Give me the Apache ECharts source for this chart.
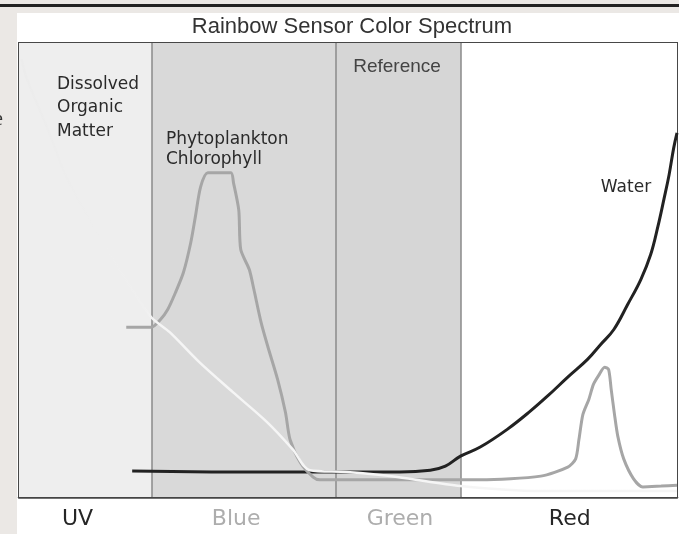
<!DOCTYPE html>
<html>
<head>
<meta charset="utf-8">
<script src="https://cdn.jsdelivr.net/npm/echarts@6/dist/echarts.min.js"></script>
<style>
  html, body { margin: 0; padding: 0; background: #ffffff; }
  #chart { width: 679px; height: 534px; }
</style>
</head>
<body>
<div id="chart"></div>
<script>
// ---- data ----
const bandNames = ['UV', 'Blue', 'Green', 'Red'];
const bandEdges = [0, 20.2, 48.2, 67.2, 100];
const bandLabelPos = [8.9, 33.0, 57.9, 83.7];

const waterData = [
  [17.2, 5.7], [35.1, 5.5], [47.3, 5.5], [57.9, 5.5], [62.5, 5.9], [64.8, 6.8],
  [67.1, 9.0], [70.1, 11.0], [74.2, 14.9], [77.7, 18.9], [80.3, 22.2], [83.4, 26.4],
  [86.4, 30.3], [88.4, 33.6], [90.4, 36.9], [92.5, 42.4], [94.5, 47.9], [96.0, 53.4],
  [97.1, 59.6], [98.0, 65.5], [98.8, 71.0], [99.5, 76.9], [100, 80.2]
];

const chlorophyllData = [
  [16.3, 37.4], [20.1, 37.4], [21.5, 39.1], [22.6, 41.3], [23.8, 45.1], [25.0, 49.5],
  [26.1, 56.0], [26.8, 61.7], [27.6, 68.3], [28.7, 71.4], [32.2, 71.4], [32.6, 69.2],
  [33.4, 63.2], [33.7, 54.5], [35.0, 50.1], [35.7, 45.7], [36.8, 38.4], [37.8, 33.2],
  [39.3, 25.9], [40.5, 18.6], [41.2, 12.6], [42.8, 7.5], [44.7, 4.4], [45.7, 3.8],
  [57.9, 3.8], [70.1, 3.8], [79.3, 4.6], [83.4, 6.6], [84.6, 8.4], [85.1, 12.7],
  [85.7, 18.2], [86.6, 21.5], [87.3, 24.8], [88.1, 26.8], [89.0, 28.6], [89.6, 28.1],
  [90.0, 23.7], [90.5, 18.2], [91.0, 13.4], [91.9, 8.4], [93.4, 4.0], [94.8, 2.2],
  [97.6, 2.4], [100, 2.6]
];

const domData = [
  [0.4, 96.5], [1.1, 92.5], [4.6, 80.2], [7.2, 70.5], [12.2, 57.4], [17.2, 45.7],
  [20.1, 39.6], [22.9, 36.3], [27.4, 29.7], [32.5, 23.1], [37.7, 16.5], [41.6, 10.5],
  [44.2, 5.9], [49.8, 5.5], [57.5, 4.4], [67.1, 2.4], [79.3, 1.3], [100, 1.3]
];

// ---- styles ----
const bandColors = ['#eeeeee', '#d9d9d9', '#d6d6d6', '#ffffff'];
const bandLabelStyle = ['dark', 'light', 'light', 'dark'];
const comic = "'DejaVu Sans', sans-serif";

const chart = echarts.init(document.getElementById('chart'), null, { renderer: 'canvas' });

const bandAreas = bandNames.map((n, i) => [
  { xAxis: bandEdges[i], itemStyle: { color: bandColors[i] } },
  { xAxis: bandEdges[i + 1] }
]);
const dividers = bandEdges.slice(1, -1).map(v => ({ xAxis: v }));

const txt = (x, y, text, font, fill, align, extra) => Object.assign({
  type: 'text', x: x, y: y, z: 100, silent: true,
  style: Object.assign({ text: text, fill: fill, font: font, textAlign: align, textVerticalAlign: 'middle' }, extra || {})
});

const option = {
  backgroundColor: '#ffffff',
  animation: false,
  grid: {
    left: 19, right: 2, top: 43, bottom: 37,
    show: true, borderColor: '#474747', borderWidth: 2, backgroundColor: 'transparent'
  },
  xAxis: {
    type: 'value', min: 0, max: 100,
    axisLine: { show: true, lineStyle: { color: '#444', width: 2.5 } },
    axisTick: { show: false },
    splitLine: { show: false },
    axisLabel: {
      customValues: bandLabelPos,
      margin: 11,
      formatter: function (v) {
        let idx = 0, best = 1e9;
        bandLabelPos.forEach((p, i) => { const d = Math.abs(p - v); if (d < best) { best = d; idx = i; } });
        return '{' + bandLabelStyle[idx] + '|' + bandNames[idx] + '}';
      },
      rich: {
        dark: { color: '#262626', fontSize: 22, fontFamily: comic },
        light: { color: '#adadad', fontSize: 22, fontFamily: comic }
      }
    }
  },
  yAxis: {
    type: 'value', min: 0, max: 100, show: false
  },
  series: [
    {
      name: 'Water', type: 'line', data: waterData, smooth: 0.4, showSymbol: false,
      lineStyle: { color: '#222222', width: 3 }, z: 3,
      markArea: { silent: true, data: bandAreas, z: 1 },
      markLine: {
        silent: true, symbol: 'none', label: { show: false },
        lineStyle: { color: '#8a8a8a', width: 1.5, type: 'solid' },
        data: dividers, z: 2
      }
    },
    {
      name: 'Phytoplankton Chlorophyll', type: 'line', data: chlorophyllData, smooth: 0.25,
      showSymbol: false, lineStyle: { color: '#a6a6a6', width: 3 }, z: 4
    },
    {
      name: 'Dissolved Organic Matter', type: 'line', data: domData, smooth: 0.3,
      showSymbol: false, z: 5,
      lineStyle: {
        width: 2.5,
        color: {
          type: 'linear', x: 0, y: 0, x2: 1, y2: 0,
          colorStops: [
            { offset: 0, color: '#ececec' },
            { offset: 0.19, color: '#efefef' },
            { offset: 0.21, color: '#f5f5f5' },
            { offset: 1, color: '#f5f5f5' }
          ]
        }
      }
    }
  ],
  graphic: [
    { type: 'rect', left: 0, top: 0, z: 100, shape: { width: 17, height: 534 }, style: { fill: '#ebe8e5' }, silent: true },
    { type: 'rect', left: 0, top: 0, z: 100, shape: { width: 679, height: 13 }, style: { fill: '#ebe8e5' }, silent: true },
    { type: 'rect', left: 0, top: 4, z: 101, shape: { width: 679, height: 3 }, style: { fill: '#222222' }, silent: true },
    txt(-6, 120, 'e', "20px 'Liberation Serif', serif", '#333', 'left'),
    txt(352, 27, 'Rainbow Sensor Color Spectrum', "22px 'Liberation Sans', Arial, sans-serif", '#333', 'center'),
    txt(57, 108, 'Dissolved\nOrganic\nMatter', "17px " + comic, '#2a2a2a', 'left', { lineHeight: 23.5 }),
    txt(166, 150, 'Phytoplankton\nChlorophyll', "17px " + comic, '#2a2a2a', 'left', { lineHeight: 20 }),
    txt(397, 67, 'Reference', "19px 'Liberation Sans', Arial, sans-serif", '#444', 'center'),
    txt(626, 188, 'Water', "17px " + comic, '#2a2a2a', 'center')
  ]
};

chart.setOption(option);
</script>
</body>
</html>
